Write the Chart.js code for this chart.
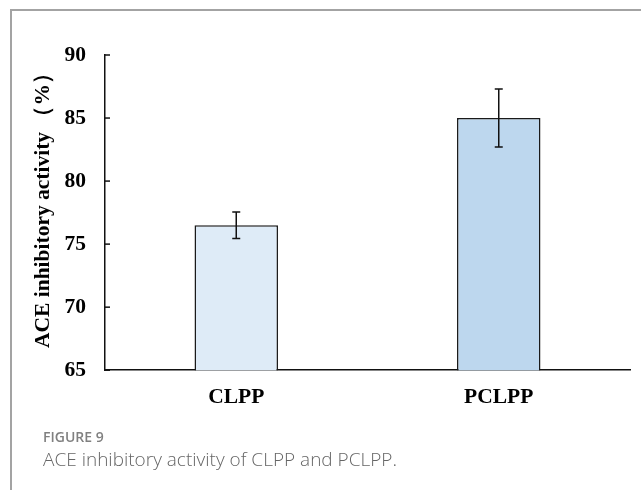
<!DOCTYPE html>
<html>
<head>
<meta charset="utf-8">
<script src="https://cdn.jsdelivr.net/npm/chart.js@4.4.0/dist/chart.umd.min.js"></script>
<style>
  body { margin: 0; background: #fff; width: 641px; height: 490px; overflow: hidden; position: relative; }
  .frame { position: absolute; left: 10px; top: 9px; right: -10px; bottom: -10px;
           border-left: 2px solid #a3a3a3; border-top: 2px solid #a3a3a3; }
  #wrap { position: absolute; left: 0; top: 0; width: 641px; height: 435px; }
  .fig { position: absolute; left: 43px; top: 427px; font-family: "Open Sans", sans-serif;
         font-weight: 600; font-size: 14px; color: #808080; }
  .cap { position: absolute; left: 43px; top: 446px; font-family: "Open Sans", sans-serif;
         font-weight: 300; font-size: 19px; color: #666; white-space: nowrap; }
</style>
</head>
<body>
<div class="frame"></div>
<div id="wrap"><canvas id="aceChart" width="641" height="435"></canvas></div>
<div class="fig">FIGURE 9</div>
<div class="cap">ACE inhibitory activity of CLPP and PCLPP.</div>
<script>
// datos
const muestras = ['CLPP', 'PCLPP'];
const actividad = [76.5, 85.0];
const errores = [1.05, 2.3];
const colores = ['#deebf7', '#bdd7ee'];
const yTicks = [65, 70, 75, 80, 85, 90];

const serif = '"Liberation Serif", "Times New Roman", serif';

// barras de error
const errorBars = {
    id: 'errorBars',
    afterDatasetsDraw(chart) {
        const ctx = chart.ctx;
        const y = chart.scales.y;
        const meta = chart.getDatasetMeta(0);
        ctx.save();
        ctx.strokeStyle = '#111';
        ctx.lineWidth = 1.5;
        meta.data.forEach((bar, i) => {
            const top = y.getPixelForValue(actividad[i] + errores[i]);
            const bot = y.getPixelForValue(actividad[i] - errores[i]);
            ctx.beginPath();
            ctx.moveTo(bar.x, top); ctx.lineTo(bar.x, bot);
            ctx.moveTo(bar.x - 4, top); ctx.lineTo(bar.x + 4, top);
            ctx.moveTo(bar.x - 4, bot); ctx.lineTo(bar.x + 4, bot);
            ctx.stroke();
        });
        ctx.restore();
    }
};

// marcas del eje y hacia dentro
const innerTicks = {
    id: 'innerTicks',
    afterDraw(chart) {
        const ctx = chart.ctx;
        const y = chart.scales.y;
        const left = chart.chartArea.left;
        ctx.save();
        ctx.strokeStyle = '#111';
        ctx.lineWidth = 1.5;
        yTicks.forEach(v => {
            const py = y.getPixelForValue(v);
            ctx.beginPath();
            ctx.moveTo(left, py); ctx.lineTo(left + 5, py);
            ctx.stroke();
        });
        ctx.restore();
    }
};

const ctx = document.getElementById('aceChart').getContext('2d');
const grafico = new Chart(ctx, {
    type: 'bar',
    data: {
        labels: muestras,
        datasets: [{
            data: actividad,
            backgroundColor: colores,
            borderColor: '#1a1a1a',
            borderWidth: 1.5,
            borderSkipped: false,
            categoryPercentage: 1,
            barPercentage: 0.318
        }]
    },
    options: {
        responsive: false,
        animation: false,
        layout: { padding: { top: 55, right: 11, bottom: 11, left: 0 } },
        plugins: {
            legend: { display: false },
            tooltip: { enabled: false }
        },
        scales: {
            x: {
                grid: { display: false, drawTicks: false },
                border: { display: true, color: '#111', width: 1.5 },
                ticks: {
                    padding: 14,
                    color: '#000',
                    font: { family: serif, size: 21.5, weight: 'bold' }
                }
            },
            y: {
                min: 65,
                max: 90,
                afterFit(scale) { scale.width = 105; },
                afterBuildTicks(scale) { scale.ticks = yTicks.map(v => ({ value: v })); },
                grid: { display: false, drawTicks: false },
                border: { display: true, color: '#111', width: 1.5 },
                ticks: {
                    padding: 19,
                    color: '#000',
                    font: { family: serif, size: 21.5, weight: 'bold' }
                },
                title: {
                    display: true,
                    text: '\u2002\u2009ACE inhibitory activity\u2009（%）',
                    color: '#000',
                    padding: { top: 31, bottom: 0 },
                    font: { family: serif, size: 21.5, weight: 'bold' }
                }
            }
        }
    },
    plugins: [errorBars, innerTicks]
});
</script>
</body>
</html>
